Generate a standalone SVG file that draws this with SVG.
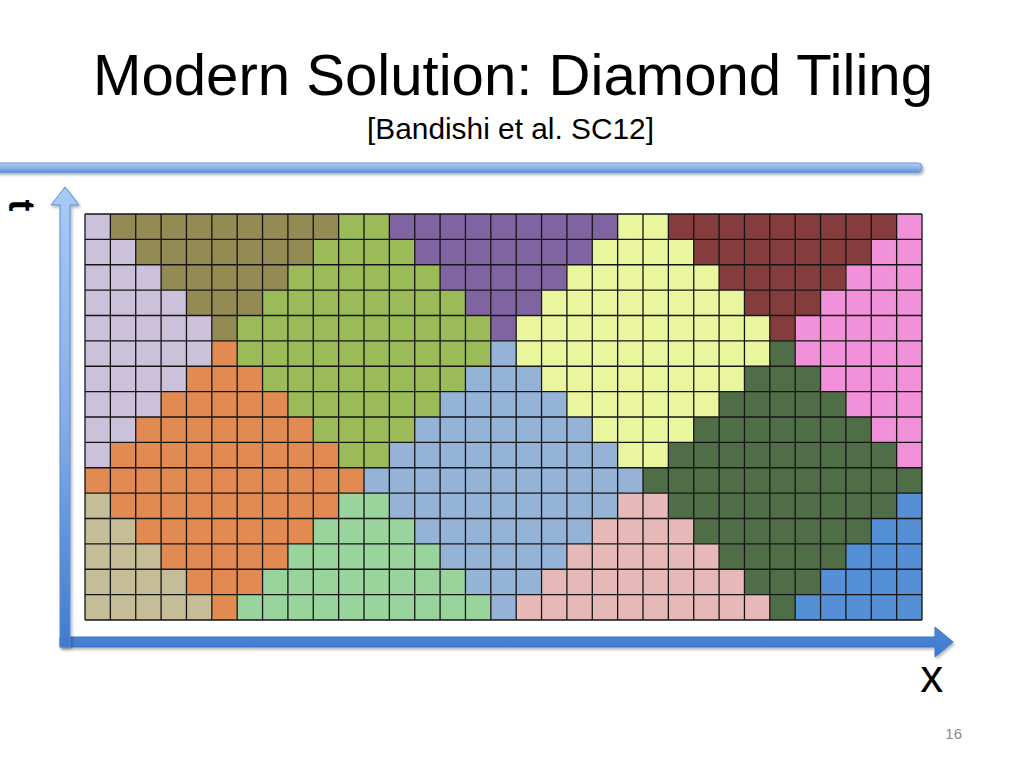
<svg xmlns="http://www.w3.org/2000/svg" width="1024" height="768" viewBox="0 0 1024 768">
<defs>
<style>
.ttl{font-family:"Liberation Sans",Arial,sans-serif;fill:#000}
.lab{font-family:"Liberation Sans",Arial,sans-serif;fill:#000}
.L{fill:#CCC1DA}.O{fill:#948A54}.G{fill:#9BBB59}.P{fill:#8064A2}.Y{fill:#EAF69E}.M{fill:#843C3C}.K{fill:#F091DA}
.R{fill:#E18A52}.B{fill:#95B3D7}.D{fill:#4F6E48}.T{fill:#C4BD97}.H{fill:#98D49B}.S{fill:#E6B9B8}.U{fill:#5590D6}
.grid{fill:none;stroke:#151515;stroke-width:1.3}
</style>
<linearGradient id="barG" x1="0" y1="0" x2="0" y2="1">
<stop offset="0" stop-color="#B3CEF2"/><stop offset="0.5" stop-color="#8EB3E8"/><stop offset="1" stop-color="#5F8ED4"/>
</linearGradient>
<linearGradient id="vG" x1="0" y1="187" x2="0" y2="647" gradientUnits="userSpaceOnUse">
<stop offset="0" stop-color="#A8CAF6"/><stop offset="0.5" stop-color="#86AEE6"/><stop offset="1" stop-color="#3F7BD0"/>
</linearGradient>
<linearGradient id="hG" x1="0" y1="627" x2="0" y2="657" gradientUnits="userSpaceOnUse">
<stop offset="0" stop-color="#4C86D6"/><stop offset="1" stop-color="#3F78CC"/>
</linearGradient>
<filter id="sh" x="-5%" y="-20%" width="110%" height="160%">
<feDropShadow dx="1.5" dy="2" stdDeviation="1.5" flood-color="#000" flood-opacity="0.3"/>
</filter>
</defs>
<rect width="1024" height="768" fill="#fff"/>

<g id="title">
<text class="ttl" x="93" y="95" font-size="57" textLength="840" lengthAdjust="spacingAndGlyphs">Modern Solution: Diamond Tiling</text>
<text class="ttl" x="367" y="138.5" font-size="29" textLength="287" lengthAdjust="spacingAndGlyphs">[Bandishi et al. SC12]</text>
</g>

<g id="top-bar">
<rect x="-6" y="163" width="928" height="9.5" rx="4" fill="url(#barG)" stroke="#6A97D6" stroke-width="1" filter="url(#sh)"/>
</g>

<g id="tiles" transform="translate(85,214) scale(25.3636,25.375)">
<g id="tile-lavender" class="L">
<rect x="0" y="0" width="1" height="1"/><rect x="0" y="1" width="2" height="1"/><rect x="0" y="2" width="3" height="1"/><rect x="0" y="3" width="4" height="1"/><rect x="0" y="4" width="5" height="1"/><rect x="0" y="5" width="5" height="1"/><rect x="0" y="6" width="4" height="1"/><rect x="0" y="7" width="3" height="1"/><rect x="0" y="8" width="2" height="1"/><rect x="0" y="9" width="1" height="1"/>
</g>
<g id="tile-olive" class="O">
<rect x="1" y="0" width="9" height="1"/><rect x="2" y="1" width="7" height="1"/><rect x="3" y="2" width="5" height="1"/><rect x="4" y="3" width="3" height="1"/><rect x="5" y="4" width="1" height="1"/>
</g>
<g id="tile-green" class="G">
<rect x="10" y="0" width="2" height="1"/><rect x="9" y="1" width="4" height="1"/><rect x="8" y="2" width="6" height="1"/><rect x="7" y="3" width="8" height="1"/><rect x="6" y="4" width="10" height="1"/><rect x="6" y="5" width="10" height="1"/><rect x="7" y="6" width="8" height="1"/><rect x="8" y="7" width="6" height="1"/><rect x="9" y="8" width="4" height="1"/><rect x="10" y="9" width="2" height="1"/>
</g>
<g id="tile-purple" class="P">
<rect x="12" y="0" width="9" height="1"/><rect x="13" y="1" width="7" height="1"/><rect x="14" y="2" width="5" height="1"/><rect x="15" y="3" width="3" height="1"/><rect x="16" y="4" width="1" height="1"/>
</g>
<g id="tile-yellow" class="Y">
<rect x="21" y="0" width="2" height="1"/><rect x="20" y="1" width="4" height="1"/><rect x="19" y="2" width="6" height="1"/><rect x="18" y="3" width="8" height="1"/><rect x="17" y="4" width="10" height="1"/><rect x="17" y="5" width="10" height="1"/><rect x="18" y="6" width="8" height="1"/><rect x="19" y="7" width="6" height="1"/><rect x="20" y="8" width="4" height="1"/><rect x="21" y="9" width="2" height="1"/>
</g>
<g id="tile-maroon" class="M">
<rect x="23" y="0" width="9" height="1"/><rect x="24" y="1" width="7" height="1"/><rect x="25" y="2" width="5" height="1"/><rect x="26" y="3" width="3" height="1"/><rect x="27" y="4" width="1" height="1"/>
</g>
<g id="tile-pink" class="K">
<rect x="32" y="0" width="1" height="1"/><rect x="31" y="1" width="2" height="1"/><rect x="30" y="2" width="3" height="1"/><rect x="29" y="3" width="4" height="1"/><rect x="28" y="4" width="5" height="1"/><rect x="28" y="5" width="5" height="1"/><rect x="29" y="6" width="4" height="1"/><rect x="30" y="7" width="3" height="1"/><rect x="31" y="8" width="2" height="1"/><rect x="32" y="9" width="1" height="1"/>
</g>
<g id="tile-orange" class="R">
<rect x="5" y="5" width="1" height="1"/><rect x="4" y="6" width="3" height="1"/><rect x="3" y="7" width="5" height="1"/><rect x="2" y="8" width="7" height="1"/><rect x="1" y="9" width="9" height="1"/><rect x="0" y="10" width="11" height="1"/><rect x="1" y="11" width="9" height="1"/><rect x="2" y="12" width="7" height="1"/><rect x="3" y="13" width="5" height="1"/><rect x="4" y="14" width="3" height="1"/><rect x="5" y="15" width="1" height="1"/>
</g>
<g id="tile-lightblue" class="B">
<rect x="16" y="5" width="1" height="1"/><rect x="15" y="6" width="3" height="1"/><rect x="14" y="7" width="5" height="1"/><rect x="13" y="8" width="7" height="1"/><rect x="12" y="9" width="9" height="1"/><rect x="11" y="10" width="11" height="1"/><rect x="12" y="11" width="9" height="1"/><rect x="13" y="12" width="7" height="1"/><rect x="14" y="13" width="5" height="1"/><rect x="15" y="14" width="3" height="1"/><rect x="16" y="15" width="1" height="1"/>
</g>
<g id="tile-darkgreen" class="D">
<rect x="27" y="5" width="1" height="1"/><rect x="26" y="6" width="3" height="1"/><rect x="25" y="7" width="5" height="1"/><rect x="24" y="8" width="7" height="1"/><rect x="23" y="9" width="9" height="1"/><rect x="22" y="10" width="11" height="1"/><rect x="23" y="11" width="9" height="1"/><rect x="24" y="12" width="7" height="1"/><rect x="25" y="13" width="5" height="1"/><rect x="26" y="14" width="3" height="1"/><rect x="27" y="15" width="1" height="1"/>
</g>
<g id="tile-tan" class="T">
<rect x="0" y="11" width="1" height="1"/><rect x="0" y="12" width="2" height="1"/><rect x="0" y="13" width="3" height="1"/><rect x="0" y="14" width="4" height="1"/><rect x="0" y="15" width="5" height="1"/>
</g>
<g id="tile-lightgreen" class="H">
<rect x="10" y="11" width="2" height="1"/><rect x="9" y="12" width="4" height="1"/><rect x="8" y="13" width="6" height="1"/><rect x="7" y="14" width="8" height="1"/><rect x="6" y="15" width="10" height="1"/>
</g>
<g id="tile-salmon" class="S">
<rect x="21" y="11" width="2" height="1"/><rect x="20" y="12" width="4" height="1"/><rect x="19" y="13" width="6" height="1"/><rect x="18" y="14" width="8" height="1"/><rect x="17" y="15" width="10" height="1"/>
</g>
<g id="tile-blue" class="U">
<rect x="32" y="11" width="1" height="1"/><rect x="31" y="12" width="2" height="1"/><rect x="30" y="13" width="3" height="1"/><rect x="29" y="14" width="4" height="1"/><rect x="28" y="15" width="5" height="1"/>
</g>
<path id="grid-lines" class="grid" vector-effect="non-scaling-stroke" d="M0 0V16M1 0V16M2 0V16M3 0V16M4 0V16M5 0V16M6 0V16M7 0V16M8 0V16M9 0V16M10 0V16M11 0V16M12 0V16M13 0V16M14 0V16M15 0V16M16 0V16M17 0V16M18 0V16M19 0V16M20 0V16M21 0V16M22 0V16M23 0V16M24 0V16M25 0V16M26 0V16M27 0V16M28 0V16M29 0V16M30 0V16M31 0V16M32 0V16M33 0V16M0 0H33M0 1H33M0 2H33M0 3H33M0 4H33M0 5H33M0 6H33M0 7H33M0 8H33M0 9H33M0 10H33M0 11H33M0 12H33M0 13H33M0 14H33M0 15H33M0 16H33"/>
</g>

<g id="connectors">
<path id="x-axis" d="M60 637H935V627L953 642L935 657V647H60Z" fill="url(#hG)" stroke="#3E76C8" stroke-width="1" filter="url(#sh)"/>
<path id="t-axis" d="M60 647V205H51L65 187L79 205H70V647Z" fill="url(#vG)" stroke="#5A8CD6" stroke-width="1" filter="url(#sh)"/>
<path d="M60.5 637.5H70V646.5H60.5Z" fill="#3F7BD0"/>
</g>

<g id="labels">
<text class="lab" transform="translate(8.5,205.5) rotate(90)" x="0" y="0" font-size="36" font-weight="bold" text-anchor="middle">t</text>
<text class="lab" x="931.7" y="691.5" font-size="46" text-anchor="middle">x</text>
<text class="lab" x="953.7" y="738.5" font-size="15" text-anchor="middle" style="fill:#8B8B8B">16</text>
</g>
</svg>
